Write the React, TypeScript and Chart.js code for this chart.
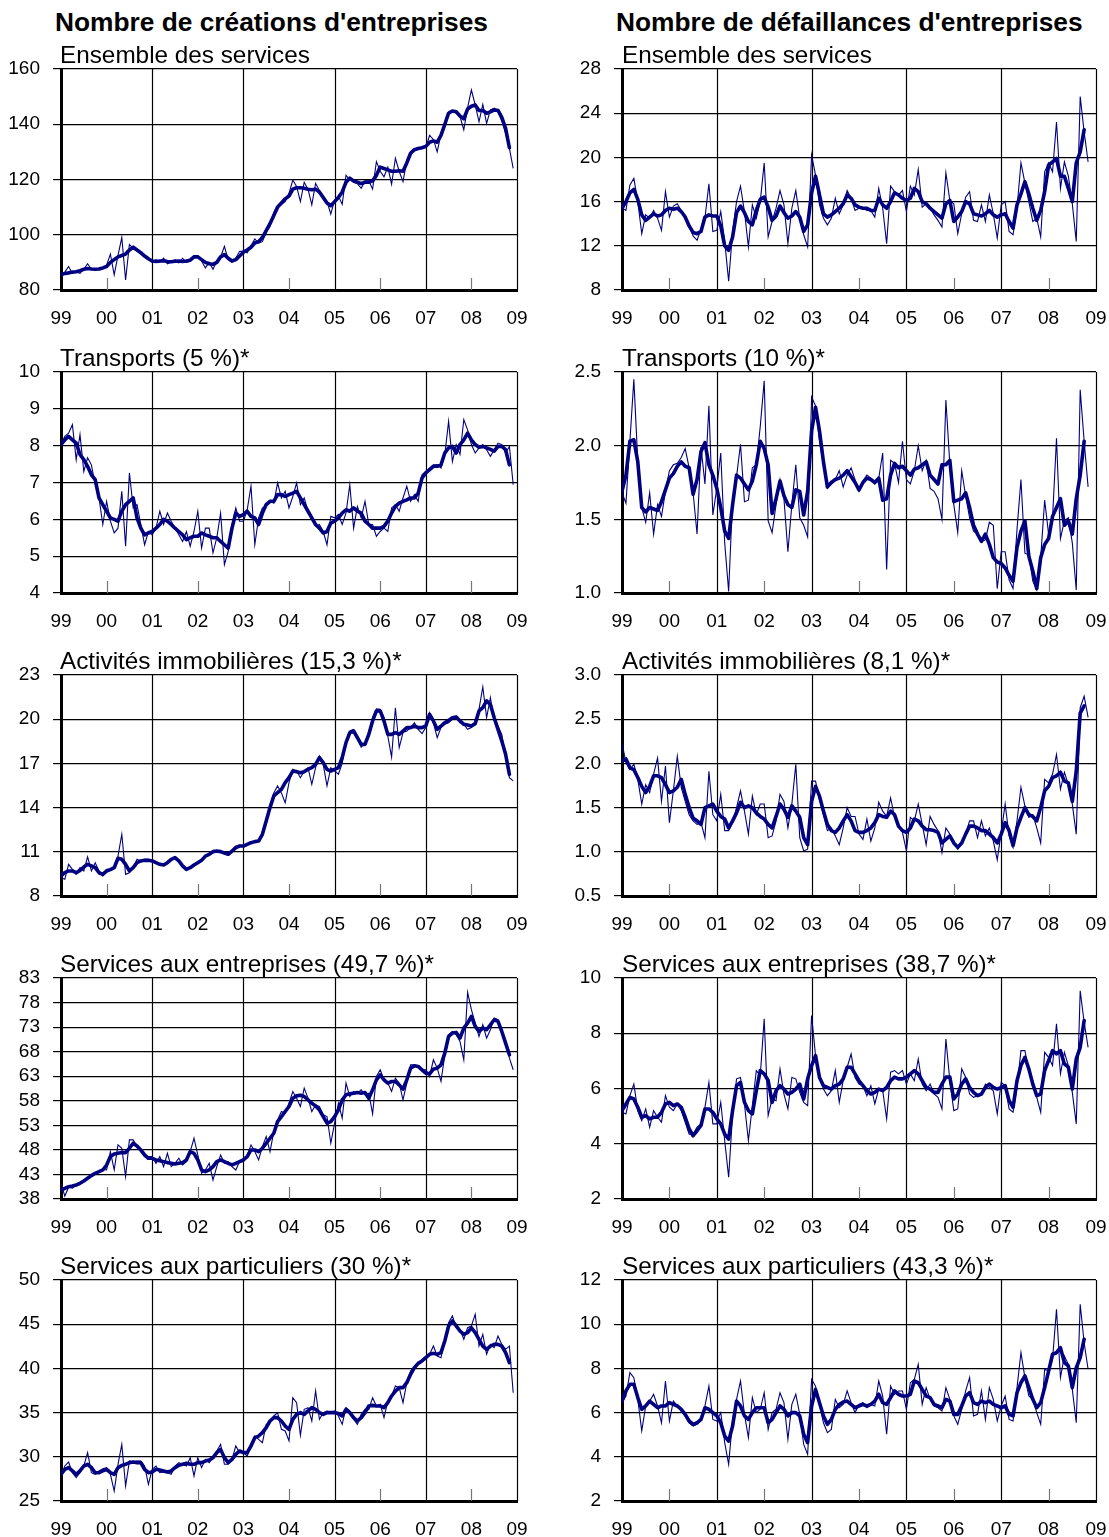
import React, { useEffect, useRef } from "react";
import { Chart, registerables } from "chart.js";

Chart.register(...registerables);

// ---------- axis / category data ----------
const FIRST_YEAR = 1999;
const LAST_YEAR = 2009;
const YEAR_LABELS = ["99", "00", "01", "02", "03", "04", "05", "06", "07", "08", "09"];
const MAJOR_YEARS = [2001, 2003, 2005, 2007, 2009];
const MINOR_YEARS = [2000, 2002, 2004, 2006, 2008];

const TITLE_LEFT = "Nombre de créations d'entreprises";
const TITLE_RIGHT = "Nombre de défaillances d'entreprises";

// ---------- créations (monthly, Jan 1999 -> Dec 2008) ----------
const CREA_ENS_RAW = [
  85, 86.5, 88.5, 86, 86.5, 86, 87.5, 89.5, 87.5, 87.5, 87.5, 88,
  89, 93, 85.5, 92.5, 99, 83.6, 96.5, 95, 94.5, 93, 92, 91,
  90, 91, 90, 91.5, 89.5, 90, 91, 89.8, 91.5, 90, 90.5, 92.5,
  92.5, 90.5, 88, 90, 87.5, 90.5, 92, 95.8, 91, 90, 91.5, 94,
  94, 93.5, 96, 98.5, 97, 97.5, 101, 103, 108, 110.5, 111, 112,
  115, 119.8, 117.5, 112, 119, 116.5, 110.8, 118.6, 116, 114, 112, 107.5,
  112.5, 114, 111, 121.5, 120, 119, 118.5, 116.8, 119.5, 119.5, 116.5, 126.5,
  123, 121, 124.5, 118.3, 127.7, 123, 119.2, 127, 130, 131, 131.5, 131.5,
  131.5, 136, 134.5, 130, 136.5, 139, 144.5, 145, 144, 142.8, 138, 146,
  152.4, 147, 140.9, 147.2, 140.3, 145.2, 145.8, 144.6, 141.2, 136.7, 131.3, 124,
];
const CREA_ENS_TREND = [
  85.5, 86, 86.2, 86.5, 86.6, 87, 87.5, 87.8, 87.6, 87.5, 87.6, 88,
  88.5, 90, 91, 92, 92.5, 93, 94.5, 95.5, 94.5, 93.5, 92.3, 91.3,
  90.5, 90.3, 90.5, 90.6, 90.3, 90.2, 90.4, 90.5, 90.3, 90.5, 90.8, 92,
  92, 91, 90, 89.5, 89.3, 90, 92, 92.8, 91.5, 90.5, 91, 92.3,
  93.7, 94.5, 95.5, 97, 97.5, 99, 101.5, 104, 107, 110, 111.5, 113,
  114, 116.5, 117, 117, 116.8, 116.5, 116.3, 116.5, 115.5, 113.5, 111.5, 110.5,
  112, 113.5, 115.5, 119, 120.5, 119.5, 119, 118.5, 119, 119, 119.5, 121.5,
  124.5, 124, 123.5, 123, 123, 123.2, 123, 126, 129.5, 130.8, 131.2, 131.5,
  132, 133.5, 134, 133.5, 136, 140, 144, 144.8, 144.5, 143, 142, 145.5,
  146.5, 147, 145, 145, 144, 144.5, 145.2, 145, 142.5, 138.5, 131.5,
];

const CREA_TRA_RAW = [
  8.03, 8.25, 8.34, 8.57, 7.62, 8.3, 7.3, 7.67, 7.48, 6.94, 6.58, 5.86,
  6.49, 5.95, 5.63, 5.76, 6.76, 5.27, 7.26, 6.31, 6.4, 5.86, 5.31, 5.67,
  5.58, 5.76, 6.22, 5.86, 6.17, 5.95, 5.76, 5.58, 5.4, 5.67, 5.27, 5.67,
  6.22, 5.22, 5.76, 5.76, 5.09, 5.5, 6.17, 4.77, 5.13, 5.86, 6.31, 5.95,
  5.95, 6.26, 6.9, 5.31, 6.04, 6.31, 6.35, 6.49, 6.44, 6.99, 6.58, 6.76,
  6.31, 6.62, 6.99, 6.4, 6.58, 6.22, 6.04, 5.81, 5.86, 5.67, 5.31, 6.08,
  6.04, 6.13, 5.86, 6.17, 6.94, 5.76, 6.35, 6.04, 6.49, 5.86, 5.86, 5.54,
  5.67, 5.76, 5.67, 6.31, 6.4, 6.22, 6.58, 6.9, 6.49, 6.67, 6.49, 7.21,
  7.3, 7.39, 7.48, 7.48, 7.39, 7.76, 8.66, 7.57, 8.03, 7.76, 8.71, 8.43,
  8.03, 7.8, 7.94, 8.03, 7.89, 7.71, 7.89, 8.07, 8.03, 7.8, 7.98, 6.94,
];
const CREA_TRA_TREND = [
  8.03, 8.16, 8.25, 8.16, 8.07, 7.76, 7.62, 7.44, 7.21, 7.08, 6.58, 6.4,
  6.22, 6.04, 6.0, 5.95, 6.22, 6.4, 6.49, 6.58, 6.04, 5.76, 5.58, 5.63,
  5.67, 5.76, 5.86, 6.0, 5.95, 5.86, 5.76, 5.67, 5.58, 5.45, 5.5, 5.54,
  5.54, 5.63, 5.58, 5.54, 5.5, 5.5, 5.4, 5.31, 5.22, 5.76, 6.17, 6.08,
  6.13, 6.22, 6.08, 6.04, 5.86, 6.17, 6.4, 6.49, 6.49, 6.67, 6.67, 6.62,
  6.67, 6.71, 6.76, 6.58, 6.4, 6.22, 6.04, 5.86, 5.76, 5.63, 5.67, 5.9,
  5.95, 6.04, 6.17, 6.26, 6.22, 6.31, 6.22, 6.17, 5.95, 5.86, 5.76, 5.76,
  5.76, 5.81, 5.95, 6.17, 6.35, 6.44, 6.49, 6.53, 6.58, 6.58, 6.71, 7.12,
  7.26, 7.35, 7.44, 7.44, 7.48, 7.8, 7.94, 7.98, 7.8, 8.03, 8.16, 8.34,
  8.16, 8.03, 7.96, 7.98, 7.94, 7.9, 7.85, 7.98, 7.98, 7.89, 7.48,
];

const CREA_IMM_RAW = [
  9.24, 9.13, 10.15, 9.81, 9.47, 9.92, 9.7, 10.65, 9.7, 10.26, 9.7, 9.36,
  9.81, 9.81, 9.92, 10.71, 12.19, 9.47, 9.58, 9.92, 10.49, 10.38, 10.49, 10.49,
  10.4, 10.2, 10.1, 10.15, 10.3, 10.5, 10.65, 10.35, 10.0, 9.8, 9.95, 10.15,
  10.3, 10.45, 10.7, 10.85, 11.0, 11.05, 11.0, 10.9, 10.8, 11.1, 11.4, 11.45,
  11.4, 11.55, 11.6, 11.7, 11.75, 12.1, 13.2, 14.1, 15.0, 15.47, 15.0, 14.33,
  15.69, 16.6, 16.48, 16.03, 16.48, 16.71, 15.58, 16.71, 17.5, 16.94, 15.47, 16.71,
  16.5, 16.26, 17.0, 18.5, 19.2, 19.3, 18.7, 18.1, 18.4, 19.1, 20.1, 20.7,
  20.67, 20.1, 18.86, 17.43, 20.78, 18.07, 19.09, 19.2, 19.43, 19.76, 19.31, 19.02,
  19.43, 20.44, 19.76, 18.75, 19.43, 19.65, 19.76, 19.99, 20.22, 19.76, 19.65, 19.31,
  19.43, 19.76, 20.67, 22.19, 20.1, 21.46, 19.88, 19.54, 18.97, 17.39, 16.03, 15.81,
];
const CREA_IMM_TREND = [
  9.36, 9.58, 9.7, 9.7, 9.58, 9.74, 9.97, 10.15, 10.04, 9.92, 9.58, 9.47,
  9.7, 9.79, 9.92, 10.56, 10.49, 10.15, 9.7, 9.92, 10.26, 10.38, 10.42, 10.42,
  10.38, 10.26, 10.15, 10.1, 10.26, 10.49, 10.6, 10.38, 10.04, 9.81, 9.92, 10.1,
  10.26, 10.42, 10.71, 10.83, 11.01, 11.05, 11.01, 10.92, 10.83, 11.05, 11.28, 11.39,
  11.39, 11.51, 11.62, 11.69, 11.73, 12.19, 13.09, 14.0, 14.79, 15.01, 15.24, 15.69,
  16.03, 16.48, 16.44, 16.37, 16.44, 16.6, 16.71, 16.94, 17.39, 17.05, 16.6, 16.48,
  16.6, 16.71, 17.39, 18.41, 19.09, 19.2, 18.75, 18.29, 18.29, 18.97, 19.88, 20.56,
  20.56, 19.88, 18.97, 18.97, 19.09, 18.97, 19.2, 19.43, 19.43, 19.54, 19.43, 19.43,
  19.54, 20.33, 19.88, 19.31, 19.54, 19.76, 19.92, 20.1, 20.15, 19.88, 19.65, 19.6,
  19.54, 19.7, 20.56, 20.78, 21.24, 21.0, 20.1, 19.31, 18.52, 17.62, 16.26,
];

const CREA_ENT_RAW = [
  41.2, 38.6, 40.4, 40.2, 40.85, 41.3, 41.6, 42.3, 42.7, 43.3, 43.5, 44.0,
  43.91, 47.65, 43.91, 49.01, 48.33, 42.55, 50.03, 50.03, 48.67, 47.65, 46.63, 46.63,
  46.63, 45.27, 46.63, 44.59, 47.31, 44.59, 45.27, 46.29, 44.93, 45.61, 47.65, 50.37,
  46.97, 43.23, 43.91, 45.27, 41.87, 44.59, 46.97, 45.27, 45.61, 44.59, 43.91, 45.61,
  45.61, 46.97, 49.01, 47.65, 45.95, 48.67, 50.71, 47.65, 51.73, 54.11, 55.81, 55.47,
  57.51, 59.89, 58.53, 56.83, 60.57, 58.53, 55.81, 57.17, 56.83, 55.13, 54.79, 49.35,
  53.43, 57.51, 54.45, 61.59, 58.87, 59.89, 59.55, 60.23, 59.21, 59.55, 55.33, 62.95,
  64.31, 62.27, 61.59, 59.89, 62.61, 61.59, 58.19, 61.59, 65.32, 65.32, 64.99, 64.31,
  64.31, 62.95, 66.34, 64.65, 61.93, 67.36, 71.44, 72.12, 71.44, 70.08, 66.34, 80.08,
  76.54, 73.82, 71.1, 73.48, 70.76, 72.46, 74.84, 74.5, 72.46, 69.74, 66.68, 64.31,
];
const CREA_ENT_TREND = [
  39.83, 40.17, 40.51, 40.65, 40.85, 41.19, 41.67, 42.21, 42.76, 43.23, 43.57, 43.91,
  44.93, 46.63, 47.17, 47.31, 47.45, 47.45, 48.33, 49.35, 48.81, 47.99, 46.97, 46.29,
  46.29, 45.95, 45.81, 45.61, 45.41, 45.27, 45.13, 45.27, 45.41, 45.95, 47.65, 47.31,
  45.95, 43.91, 43.57, 43.91, 44.59, 45.61, 45.95, 45.61, 45.27, 44.93, 45.27, 45.61,
  45.95, 46.63, 47.99, 47.99, 47.65, 48.33, 49.35, 50.37, 51.39, 53.77, 54.79, 55.81,
  56.83, 58.53, 59.0, 59.14, 58.87, 58.19, 57.51, 56.96, 56.15, 54.79, 53.43, 53.77,
  54.79, 56.15, 58.19, 59.21, 59.41, 59.55, 59.68, 59.55, 59.68, 58.53, 60.23, 62.27,
  63.29, 62.27, 61.59, 61.93, 61.93, 61.25, 60.36, 62.27, 64.65, 65.12, 64.99, 64.31,
  63.63, 63.49, 64.44, 64.65, 65.32, 67.7, 71.1, 71.78, 71.92, 70.76, 72.8, 73.82,
  75.18, 73.14, 72.12, 72.8, 72.46, 73.48, 74.5, 74.16, 72.12, 69.74, 67.36,
];

const CREA_PAR_RAW = [
  27.83, 28.96, 29.41, 28.2, 27.64, 28.2, 28.96, 30.47, 28.2, 28.02, 28.39, 28.66,
  28.77, 28.02, 26.13, 29.15, 31.41, 26.7, 29.52, 29.41, 29.52, 29.52, 28.96, 26.89,
  28.58, 28.96, 28.2, 28.28, 28.2, 28.02, 28.96, 29.34, 29.15, 28.96, 29.9, 27.83,
  29.9, 28.77, 29.71, 29.34, 29.9, 30.66, 31.41, 29.15, 29.15, 29.71, 31.22, 30.47,
  30.47, 30.09, 31.22, 32.35, 31.98, 31.6, 33.67, 33.86, 34.62, 34.99, 33.11, 32.92,
  31.8, 36.69, 36.12, 32.43, 35.37, 35.56, 34.05, 37.44, 34.24, 34.99, 35.18, 34.99,
  35.18, 34.62, 33.67, 35.56, 35.18, 34.24, 33.67, 34.8, 35.37, 35.37, 36.69, 35.75,
  35.94, 34.43, 36.31, 36.88, 38.01, 37.82, 36.12, 38.39, 39.71, 40.27, 40.65, 40.84,
  41.21, 41.59, 42.53, 41.4, 41.21, 43.29, 45.17, 45.93, 44.61, 44.42, 43.29, 44.61,
  44.8, 46.12, 42.53, 43.85, 41.59, 42.72, 42.35, 43.67, 42.72, 42.16, 42.53, 37.25,
];
const CREA_PAR_TREND = [
  28.02, 28.58, 28.77, 28.4, 28.02, 28.4, 28.96, 29.15, 28.77, 28.2, 28.2, 28.4,
  28.58, 28.2, 28.02, 28.77, 29.03, 29.15, 29.34, 29.41, 29.34, 29.34, 28.58, 28.2,
  28.28, 28.58, 28.5, 28.4, 28.28, 28.4, 28.77, 29.03, 29.15, 29.26, 29.15, 29.15,
  29.34, 29.34, 29.52, 29.64, 29.9, 30.47, 30.84, 29.9, 29.34, 29.71, 30.28, 30.66,
  30.47, 30.47, 31.22, 32.16, 32.35, 32.73, 33.3, 34.05, 34.43, 34.43, 34.05, 33.48,
  33.11, 34.24, 34.8, 35.0, 34.8, 35.2, 35.56, 35.37, 35.0, 34.8, 35.0, 35.0,
  35.0, 34.91, 34.62, 35.37, 35.0, 34.43, 34.05, 34.43, 35.0, 35.75, 35.82, 35.75,
  35.75, 35.56, 36.12, 36.88, 37.44, 37.82, 37.82, 38.39, 39.33, 40.08, 40.57, 40.84,
  41.21, 41.59, 41.7, 41.59, 41.78, 43.1, 44.8, 45.36, 44.8, 44.23, 43.85, 44.04,
  44.6, 44.04, 43.29, 42.53, 42.16, 42.53, 42.72, 42.72, 42.53, 41.78, 40.65,
];

// ---------- défaillances (monthly, Jan 1999 -> Nov 2008) ----------
const DEF_ENS_RAW = [
  15.4, 15.2, 17.5, 18.1, 16, 13.1, 14.8, 14.5, 15.2, 14.5, 13.4, 16.9,
  14.6, 15.6, 15.8, 15.2, 14.6, 13.9, 12.9, 12.5, 13.5, 14.5, 17.6, 13.3,
  13.4, 15.1, 12.4, 8.8, 13.3, 16, 17.4, 15.1, 11.9, 15.7, 14.5, 16,
  19.5, 12.8, 14.2, 15.4, 17, 15.7, 12.2, 15.4, 17, 14.5, 13, 11.9,
  20.2, 18.4, 15.7, 14.5, 13.9, 14.5, 16.3, 14.9, 15.7, 17, 16.3, 15.2,
  15.4, 15.4, 15.2, 15.2, 14.6, 17.2, 15.4, 12.2, 17.4, 16.9, 16.6, 17,
  15.1, 17.4, 16.6, 18.9, 15.5, 15.8, 15.4, 14.8, 14.3, 13.7, 18.6, 16.1,
  15.8, 13.1, 14.9, 16.4, 16.9, 14.3, 14.2, 15.7, 14.2, 16.6, 14.9, 12.7,
  15.7, 16, 13.3, 13, 15.4, 19.5, 17.7, 16, 14.2, 14.5, 12.8, 18.7,
  19.5, 18.7, 23.2, 17.2, 19.6, 18.3, 15.8, 12.4, 25.5, 22.3, 19.6,
];
const DEF_ENS_TREND = [
  15.4, 16, 16.8, 17.1, 16.2, 14.8, 14.3, 14.6, 14.9, 14.7, 14.8, 15.2,
  15.4, 15.3, 15.4, 15.1, 14.6, 13.8, 13.2, 13.1, 13.3, 14.6, 14.8, 14.7,
  14.7, 13.8, 12, 11.6, 12.8, 15, 15.6, 15, 14.2, 13.9, 15.2, 16.2,
  16.4, 15.5, 14.3, 14.7, 15.6, 15, 14.5, 14.7, 15.1, 14.6, 13.3, 13.9,
  16.8, 18.3, 16.6, 14.9, 14.6, 14.8, 15.1, 15.4, 15.8, 16.6, 16.3, 15.7,
  15.5, 15.4, 15.4, 15.2, 15.2, 16.3, 15.7, 15.4, 16, 16.8, 16.6, 16.3,
  16.1, 16.3, 17.2, 16.9, 16, 15.8, 15.4, 15.1, 14.8, 14.5, 15.8, 16.1,
  14.2, 14.6, 15.1, 16, 15.8, 14.9, 14.8, 14.7, 14.9, 15.2, 14.8, 14.6,
  14.8, 14.9, 14.2, 13.6, 15.7, 16.7, 17.8, 16.7, 15.4, 14.3, 15.2, 16.9,
  19.3, 19.6, 19.9, 18.3, 18.3, 17.2, 16, 19.5, 20.5, 22.5,
];

const DEF_TRA_RAW = [
  1.68, 1.61, 2.03, 2.45, 1.89, 1.58, 1.48, 1.68, 1.4, 1.6, 1.52, 1.69,
  1.83, 1.87, 1.88, 1.92, 1.98, 1.85, 1.68, 1.4, 1.99, 1.74, 2.27, 1.53,
  1.71, 1.95, 1.34, 1.01, 1.64, 1.79, 2.01, 1.62, 1.63, 1.85, 1.87, 2.13,
  2.44, 1.49, 1.41, 1.6, 1.77, 1.64, 1.28, 1.6, 1.87, 1.51, 1.46, 1.38,
  2.33, 2.27, 2.03, 1.87, 1.71, 1.74, 1.77, 1.83, 1.72, 1.8, 1.85, 1.77,
  1.69, 1.76, 1.8, 1.78, 1.74, 1.78, 1.95, 1.16, 1.9, 1.88, 1.75, 2.03,
  1.77, 1.74, 1.83, 2.0, 1.83, 1.9, 1.71, 1.69, 1.64, 1.5, 2.31, 1.87,
  1.6, 1.41, 1.83, 1.66, 1.51, 1.42, 1.4, 1.35, 1.36, 1.48, 1.46, 1.03,
  1.28, 1.28, 1.09, 1.03, 1.43, 1.77, 1.27, 1.26, 1.08, 1.02, 1.24, 1.63,
  1.4, 1.51, 2.05, 1.37, 1.49, 1.51, 1.34, 1.02, 2.38, 2.03, 1.72,
];
const DEF_TRA_TREND = [
  1.69, 1.8, 2.03, 2.04, 1.89, 1.58, 1.55, 1.58, 1.57, 1.56, 1.62, 1.7,
  1.78, 1.81, 1.86, 1.89, 1.86, 1.85, 1.67, 1.77, 1.96, 2.02, 1.87, 1.8,
  1.71, 1.58, 1.42, 1.37, 1.6, 1.8, 1.78, 1.74, 1.7, 1.76, 1.87, 2.03,
  1.98, 1.87, 1.54, 1.64, 1.76, 1.66, 1.6, 1.58, 1.7, 1.69, 1.53, 1.69,
  2.1, 2.26, 2.1, 1.89, 1.72, 1.75, 1.77, 1.78, 1.8, 1.83, 1.79, 1.75,
  1.7, 1.75, 1.78, 1.77, 1.75, 1.78, 1.63, 1.64, 1.8, 1.88, 1.85, 1.86,
  1.83, 1.8, 1.84, 1.85, 1.87, 1.89, 1.8, 1.77, 1.74, 1.87, 1.87, 1.9,
  1.62, 1.63, 1.64, 1.68, 1.58, 1.46, 1.4, 1.35, 1.4, 1.33, 1.24, 1.21,
  1.2, 1.17, 1.12, 1.08, 1.31, 1.42, 1.49, 1.25, 1.15, 1.03, 1.24, 1.33,
  1.37, 1.52, 1.58, 1.64, 1.46, 1.49, 1.4, 1.64, 1.8, 2.03,
];

const DEF_IMM_RAW = [
  2.23, 2.01, 1.93, 1.99, 1.82, 1.54, 1.76, 1.67, 1.88, 2.06, 1.57, 1.97,
  1.33, 1.69, 2.08, 1.73, 1.57, 1.42, 1.35, 1.31, 1.33, 1.16, 1.91, 1.42,
  1.35, 1.65, 1.24, 1.24, 1.33, 1.5, 1.69, 1.46, 1.2, 1.63, 1.42, 1.54,
  1.54, 1.16, 1.18, 1.35, 1.65, 1.57, 1.27, 1.54, 1.99, 1.16, 1.01, 1.03,
  1.8, 1.8, 1.59, 1.42, 1.24, 1.27, 1.18, 1.08, 1.27, 1.5, 1.4, 1.4,
  1.2, 1.14, 1.37, 1.12, 1.27, 1.56, 1.46, 1.4, 1.61, 1.39, 1.31, 1.22,
  1.01, 1.39, 1.35, 1.54, 1.31, 1.08, 1.4, 1.31, 1.24, 0.99, 1.27, 1.2,
  1.12, 1.03, 1.1, 1.2, 1.35, 1.35, 1.16, 1.35, 1.18, 1.27, 1.12, 0.91,
  1.22, 1.54, 1.18, 1.05, 1.35, 1.73, 1.52, 1.39, 1.42, 1.27, 1.1, 1.82,
  1.78, 1.88, 2.1, 1.71, 1.9, 1.76, 1.54, 1.2, 2.63, 2.76, 2.52,
];
const DEF_IMM_TREND = [
  2.03, 2.05, 1.95, 1.93, 1.84, 1.74, 1.67, 1.74, 1.86, 1.86, 1.84, 1.76,
  1.67, 1.69, 1.73, 1.82, 1.65, 1.5, 1.38, 1.35, 1.31, 1.5, 1.52, 1.54,
  1.46, 1.4, 1.37, 1.27, 1.35, 1.44, 1.56, 1.5, 1.52, 1.5, 1.44, 1.4,
  1.37, 1.31, 1.27, 1.4, 1.54, 1.48, 1.39, 1.52, 1.46, 1.39, 1.16, 1.08,
  1.57, 1.74, 1.63, 1.46, 1.31, 1.24, 1.22, 1.27, 1.35, 1.42, 1.35, 1.24,
  1.22, 1.22, 1.24, 1.27, 1.33, 1.42, 1.4, 1.39, 1.46, 1.42, 1.29, 1.24,
  1.22, 1.27, 1.37, 1.35, 1.29, 1.25, 1.25, 1.24, 1.22, 1.1, 1.14, 1.18,
  1.1, 1.05, 1.1, 1.2, 1.29, 1.29, 1.27, 1.24, 1.24, 1.2, 1.16, 1.1,
  1.2, 1.33, 1.24, 1.07, 1.27, 1.39, 1.5, 1.42, 1.4, 1.35, 1.5, 1.69,
  1.74, 1.84, 1.86, 1.9, 1.8, 1.78, 1.57, 1.91, 2.57, 2.65,
];

const DEF_ENT_RAW = [
  5.14, 5.08, 5.74, 6.16, 5.2, 4.84, 5.26, 4.6, 5.2, 4.96, 4.78, 5.74,
  5.32, 5.2, 5.44, 5.2, 4.78, 4.35, 4.35, 4.6, 4.72, 5.32, 6.22, 4.72,
  4.72, 5.5, 4.11, 2.79, 5.08, 6.35, 6.4, 5.44, 4.11, 5.38, 6.65, 6.47,
  8.52, 5.02, 5.62, 5.56, 6.71, 5.8, 5.26, 6.4, 6.35, 5.86, 5.5, 5.38,
  8.64, 7.19, 6.4, 5.98, 5.74, 5.92, 6.65, 5.5, 6.29, 6.77, 7.25, 6.4,
  6.16, 6.1, 5.74, 6.1, 5.44, 5.98, 5.92, 4.9, 6.59, 6.65, 6.53, 6.65,
  6.16, 6.53, 6.28, 7.07, 6.16, 5.92, 6.16, 5.8, 5.68, 5.26, 7.79, 6.28,
  5.2, 5.26, 6.71, 6.41, 5.8, 5.68, 5.74, 5.8, 6.16, 6.04, 5.92, 5.08,
  6.22, 6.1, 5.26, 5.14, 6.04, 7.37, 7.37, 6.65, 6.28, 5.68, 5.14, 7.31,
  7.13, 6.83, 8.34, 6.53, 7.31, 6.83, 5.86, 4.72, 9.54, 8.4, 7.49,
];
const DEF_ENT_TREND = [
  5.2, 5.44, 5.68, 5.62, 5.32, 4.96, 5.02, 4.9, 4.96, 4.96, 5.14, 5.44,
  5.5, 5.38, 5.44, 5.32, 4.96, 4.54, 4.29, 4.47, 4.66, 5.26, 5.26, 5.14,
  4.9, 4.72, 4.35, 4.17, 5.2, 6.1, 6.22, 5.5, 5.2, 5.08, 5.92, 6.65,
  6.53, 6.29, 5.5, 5.92, 6.1, 5.98, 5.8, 5.86, 5.98, 6.16, 5.62, 6.35,
  6.83, 7.19, 6.4, 6.1, 6.04, 5.98, 6.1, 6.16, 6.35, 6.77, 6.77, 6.53,
  6.28, 6.1, 5.92, 5.8, 5.86, 5.98, 5.92, 6.04, 6.28, 6.41, 6.35, 6.35,
  6.41, 6.53, 6.65, 6.53, 6.28, 6.04, 5.98, 5.86, 5.86, 6.16, 6.41, 6.41,
  5.62, 5.8, 6.16, 6.35, 6.04, 5.86, 5.74, 5.8, 6.04, 6.16, 6.04, 5.98,
  6.04, 6.1, 5.56, 5.32, 6.28, 6.83, 7.13, 6.71, 6.16, 5.74, 5.8, 6.65,
  7.01, 7.37, 7.25, 7.37, 6.89, 6.77, 5.98, 7.07, 7.49, 8.46,
];

const DEF_PAR_RAW = [
  6.45, 6.75, 7.81, 7.58, 6.6, 5.17, 6.3, 6.52, 6.83, 6.3, 5.54, 7.43,
  5.62, 6.52, 6.3, 6.07, 5.84, 5.54, 5.39, 5.47, 5.69, 6.3, 7.2, 5.69,
  5.62, 6.0, 4.64, 3.66, 5.69, 6.6, 7.43, 5.92, 4.87, 6.68, 6.0, 6.15,
  6.9, 5.24, 6.0, 6.15, 6.9, 6.45, 4.79, 6.37, 6.83, 5.92, 4.56, 4.11,
  7.5, 7.2, 6.37, 5.54, 5.09, 5.24, 6.6, 6.22, 6.37, 6.98, 6.45, 6.0,
  6.37, 6.45, 6.22, 6.37, 6.3, 7.43, 6.75, 5.02, 7.2, 6.83, 6.98, 6.98,
  6.15, 7.35, 7.5, 8.18, 6.37, 7.13, 6.6, 6.3, 6.22, 6.07, 7.13, 6.6,
  5.85, 5.47, 6.15, 6.98, 7.58, 5.85, 5.92, 6.98, 5.69, 7.13, 6.6, 5.62,
  6.3, 6.75, 5.69, 5.62, 7.13, 8.71, 7.58, 6.75, 6.6, 6.0, 5.47, 7.96,
  7.88, 8.41, 10.67, 7.58, 8.56, 8.18, 7.05, 5.54, 10.9, 9.16, 7.96,
];
const DEF_PAR_TREND = [
  6.52, 6.98, 7.28, 7.28, 6.68, 6.15, 6.3, 6.52, 6.37, 6.22, 6.3, 6.3,
  6.45, 6.37, 6.3, 6.15, 5.92, 5.62, 5.47, 5.54, 5.69, 6.22, 6.15, 6.0,
  5.85, 5.54, 4.94, 4.71, 5.39, 6.52, 6.3, 5.85, 5.69, 6.0, 6.22, 6.22,
  6.22, 5.54, 5.69, 6.0, 6.3, 6.15, 5.85, 6.0, 6.0, 5.85, 5.02, 4.64,
  6.3, 7.05, 6.45, 5.85, 5.47, 5.69, 6.15, 6.37, 6.48, 6.52, 6.37, 6.22,
  6.3, 6.37, 6.3, 6.37, 6.52, 6.83, 6.45, 6.37, 6.68, 6.98, 6.83, 6.75,
  6.75, 6.83, 7.43, 7.35, 7.05, 6.75, 6.68, 6.37, 6.3, 6.22, 6.6, 6.52,
  5.92, 5.92, 6.3, 6.75, 6.9, 6.45, 6.37, 6.52, 6.45, 6.52, 6.37, 6.3,
  6.22, 6.3, 5.92, 5.85, 6.9, 7.35, 7.66, 7.13, 6.6, 6.22, 6.45, 7.13,
  7.88, 8.64, 8.71, 8.94, 8.26, 8.11, 7.13, 8.03, 8.49, 9.32,
];

// ---------- panel tables (built from the arrays above) ----------
type PanelSpec = {
  title: string;
  raw: number[];
  trend: number[];
  min: number;
  max: number;
  step: number;
  dec: number;
};

const LEFT_PANELS: PanelSpec[] = [
  { title: "Ensemble des services", raw: CREA_ENS_RAW, trend: CREA_ENS_TREND, min: 80, max: 160, step: 20, dec: 0 },
  { title: "Transports (5 %)*", raw: CREA_TRA_RAW, trend: CREA_TRA_TREND, min: 4, max: 10, step: 1, dec: 0 },
  { title: "Activités immobilières (15,3 %)*", raw: CREA_IMM_RAW, trend: CREA_IMM_TREND, min: 8, max: 23, step: 3, dec: 0 },
  { title: "Services aux entreprises (49,7 %)*", raw: CREA_ENT_RAW, trend: CREA_ENT_TREND, min: 38, max: 83, step: 5, dec: 0 },
  { title: "Services aux particuliers (30 %)*", raw: CREA_PAR_RAW, trend: CREA_PAR_TREND, min: 25, max: 50, step: 5, dec: 0 },
];
const RIGHT_PANELS: PanelSpec[] = [
  { title: "Ensemble des services", raw: DEF_ENS_RAW, trend: DEF_ENS_TREND, min: 8, max: 28, step: 4, dec: 0 },
  { title: "Transports (10 %)*", raw: DEF_TRA_RAW, trend: DEF_TRA_TREND, min: 1, max: 2.5, step: 0.5, dec: 1 },
  { title: "Activités immobilières (8,1 %)*", raw: DEF_IMM_RAW, trend: DEF_IMM_TREND, min: 0.5, max: 3, step: 0.5, dec: 1 },
  { title: "Services aux entreprises (38,7 %)*", raw: DEF_ENT_RAW, trend: DEF_ENT_TREND, min: 2, max: 10, step: 2, dec: 0 },
  { title: "Services aux particuliers (43,3 %)*", raw: DEF_PAR_RAW, trend: DEF_PAR_TREND, min: 2, max: 12, step: 2, dec: 0 },
];

// ---------- styling / layout ----------
const FONT = '"Liberation Sans", Arial, Helvetica, sans-serif';
const NAVY = "#000080";
const ROW_TOPS = [69, 372, 675, 978, 1280];
const PLOT_H = 221;
const PAD_TOP = 20;
const X_AXIS_H = 45;

const toPoints = (arr: number[]) => arr.map((v, i) => ({ x: FIRST_YEAR + i / 12, y: v }));

const yearGridPlugin = {
  id: "yearGrid",
  beforeDatasetsDraw(chart: any) {
    const { ctx, chartArea: a, scales } = chart;
    const x = scales.x;
    ctx.save();
    ctx.strokeStyle = "#000";
    ctx.lineWidth = 1.2;
    for (const yr of MAJOR_YEARS) {
      const px = Math.round(x.getPixelForValue(yr)) + 0.5;
      ctx.beginPath();
      ctx.moveTo(px, a.top);
      ctx.lineTo(px, a.bottom);
      ctx.stroke();
    }
    ctx.strokeStyle = "#777";
    for (const yr of MINOR_YEARS) {
      const px = Math.round(x.getPixelForValue(yr)) + 0.5;
      ctx.beginPath();
      ctx.moveTo(px, a.bottom);
      ctx.lineTo(px, a.bottom - 12);
      ctx.stroke();
    }
    ctx.restore();
  },
};

type PanelProps = { spec: PanelSpec; left: number; top: number; width: number; yW: number; padRight: number };

function Panel({ spec, left, top, width, yW, padRight }: PanelProps) {
  const ref = useRef<HTMLCanvasElement | null>(null);
  const height = PAD_TOP + PLOT_H + X_AXIS_H;
  useEffect(() => {
    const canvas = ref.current;
    if (!canvas) return;
    const chart = new Chart(canvas, {
      type: "line",
      data: {
        datasets: [
          {
            data: toPoints(spec.trend),
            borderColor: NAVY,
            borderWidth: 3.6,
            pointRadius: 0,
            tension: 0,
            borderJoinStyle: "round",
            borderCapStyle: "round",
          },
          {
            data: toPoints(spec.raw),
            borderColor: NAVY,
            borderWidth: 1.1,
            pointRadius: 0,
            tension: 0,
          },
        ],
      },
      options: {
        responsive: false,
        animation: false,
        devicePixelRatio: 1,
        parsing: false,
        normalized: true,
        layout: { padding: { left: 0, right: padRight, top: PAD_TOP, bottom: 0 } },
        plugins: { legend: { display: false }, tooltip: { enabled: false } },
        events: [],
        scales: {
          x: {
            type: "linear",
            min: FIRST_YEAR,
            max: LAST_YEAR,
            grid: { display: false, drawTicks: false },
            border: { display: true, color: "#000", width: 3 },
            ticks: {
              stepSize: 1,
              autoSkip: false,
              maxRotation: 0,
              padding: 17,
              color: "#000",
              font: { family: FONT, size: 19 },
              callback: (v: any) => YEAR_LABELS[Math.round(Number(v) - FIRST_YEAR)],
            },
            afterFit: (s: any) => {
              s.height = X_AXIS_H;
              s.paddingLeft = 0;
              s.paddingRight = 0;
            },
          },
          y: {
            type: "linear",
            min: spec.min,
            max: spec.max,
            grid: { color: "#000", lineWidth: 1.2, drawTicks: true, tickLength: 8 },
            border: { display: true, color: "#000", width: 3 },
            ticks: {
              stepSize: spec.step,
              autoSkip: false,
              padding: 13,
              color: "#000",
              font: { family: FONT, size: 19 },
              callback: (v: any) => Number(v).toFixed(spec.dec),
            },
            afterFit: (s: any) => {
              s.width = yW;
              s.paddingTop = 0;
              s.paddingBottom = 0;
            },
          },
        },
      } as any,
      plugins: [yearGridPlugin],
    });
    return () => chart.destroy();
  }, [spec, yW, padRight]);
  return (
    <canvas
      ref={ref}
      width={width}
      height={height}
      style={{ position: "absolute", left, top, width, height }}
    />
  );
}

const subStyle = (left: number, top: number): React.CSSProperties => ({
  position: "absolute",
  left,
  top,
  fontSize: 24.3,
  lineHeight: "24px",
  whiteSpace: "nowrap",
  color: "#000",
});

const titleStyle = (left: number): React.CSSProperties => ({
  position: "absolute",
  left,
  top: 9,
  fontSize: 26.3,
  fontWeight: "bold",
  lineHeight: "26px",
  whiteSpace: "nowrap",
  color: "#000",
});

export default function App() {
  return (
    <div
      style={{
        position: "absolute",
        left: 0,
        top: 0,
        width: 1109,
        height: 1537,
        background: "#fff",
        fontFamily: FONT,
        overflow: "hidden",
      }}
    >
      {LEFT_PANELS.map((p, k) => (
        <Panel key={"l" + k} spec={p} left={0} top={ROW_TOPS[k] - PAD_TOP} width={540} yW={61} padRight={23} />
      ))}
      {RIGHT_PANELS.map((p, k) => (
        <Panel key={"r" + k} spec={p} left={560} top={ROW_TOPS[k] - PAD_TOP} width={549} yW={62} padRight={13} />
      ))}
      <div style={titleStyle(55)}>{TITLE_LEFT}</div>
      <div style={titleStyle(616)}>{TITLE_RIGHT}</div>
      {LEFT_PANELS.map((p, k) => (
        <div key={"lt" + k} style={subStyle(60, ROW_TOPS[k] - 26)}>
          {p.title}
        </div>
      ))}
      {RIGHT_PANELS.map((p, k) => (
        <div key={"rt" + k} style={subStyle(622, ROW_TOPS[k] - 26)}>
          {p.title}
        </div>
      ))}
    </div>
  );
}
